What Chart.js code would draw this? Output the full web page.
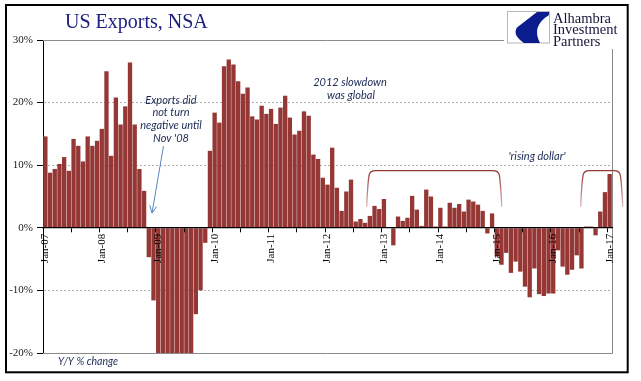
<!DOCTYPE html>
<html><head><meta charset="utf-8">
<script src="https://cdn.jsdelivr.net/npm/chart.js@4.4.1/dist/chart.umd.min.js"></script>
<style>html,body{margin:0;padding:0;background:#fff}canvas{display:block}</style>
</head><body>
<canvas id="c" width="641" height="381"></canvas>
<script>
// ---- data (Y/Y % change in US exports, NSA) ----
const monthNames = ['Jan','Feb','Mar','Apr','May','Jun','Jul','Aug','Sep','Oct','Nov','Dec'];
const yearLabels = ['07','08','09','10','11','12','13','14','15','16','17'];
const yoy2007 = [14.6, 8.8, 9.4, 10.2, 11.3, 9.1, 14.2, 13.1, 10.6, 14.6, 13.1, 13.9];
const yoy2008 = [15.8, 25.0, 11.5, 20.8, 16.5, 19.4, 26.4, 16.5, 9.4, 5.9, -4.7, -11.6];
const yoy2009 = [-22.0, -24.5, -26.0, -27.0, -26.5, -25.0, -23.5, -21.0, -13.8, -10.0, -2.4, 12.3];
const yoy2010 = [18.4, 16.8, 25.8, 26.9, 26.1, 23.4, 21.4, 22.4, 17.8, 17.3, 19.5, 18.2];
const yoy2011 = [19.0, 16.6, 19.2, 21.1, 17.6, 14.9, 15.5, 18.6, 17.9, 11.7, 11.0, 8.0];
const yoy2012 = [6.9, 12.8, 6.4, 2.7, 5.8, 7.7, 1.0, 1.4, 0.8, 1.9, 3.5, 3.0];
const yoy2013 = [4.6, 0.0, -2.8, 1.8, 1.1, 1.6, 5.1, 2.9, 0.3, 6.1, 5.0, 0.2];
const yoy2014 = [3.2, 0.2, 4.0, 3.2, 3.8, 2.6, 4.5, 4.2, 3.7, 2.7, -0.9, 2.3];
const yoy2015 = [-4.6, -5.9, -4.0, -7.2, -5.4, -7.0, -9.4, -11.1, -6.5, -10.6, -10.9, -10.5];
const yoy2016 = [-10.5, -3.6, -6.2, -7.5, -6.7, -4.4, -6.5, 0.2, 0.2, -1.2, 2.6, 5.7];
const yoy2017 = [8.6];
const yTickValues = [-20, -10, 0, 10, 20, 30];

const yearSeries = [yoy2007, yoy2008, yoy2009, yoy2010, yoy2011, yoy2012, yoy2013, yoy2014, yoy2015, yoy2016, yoy2017];
const categories = [];
const values = [];
yearSeries.forEach((arr, yi) => arr.forEach((v, mi) => {
  categories.push(monthNames[mi] + '-' + yearLabels[yi]);
  values.push(v);
}));

const BAR = '#953735';
const NOTE = '#1b2a55';

const decor = {
  id: 'decor',
  beforeDraw(chart) {
    const c = chart.ctx; c.save(); c.fillStyle = '#fff'; c.fillRect(0, 0, chart.width, chart.height); c.restore();
  },
  beforeDatasetsDraw(chart) {
    const {ctx, chartArea: a} = chart;
    ctx.save(); ctx.strokeStyle = '#8a8a8a'; ctx.lineWidth = 1;
    ctx.beginPath();
    ctx.moveTo(a.left, Math.round(a.top) + 0.5);
    ctx.lineTo(Math.round(a.right) + 0.5, Math.round(a.top) + 0.5);
    ctx.lineTo(Math.round(a.right) + 0.5, Math.round(a.bottom) + 0.5);
    ctx.lineTo(a.left, Math.round(a.bottom) + 0.5);
    ctx.stroke(); ctx.restore();
  },
  afterDraw(chart) {
    const ctx = chart.ctx;
    ctx.save();
    // annotation texts
    ctx.fillStyle = NOTE; ctx.textAlign = 'center'; ctx.textBaseline = 'middle';
    ctx.font = 'italic 11px Lato';
    [['Exports did', 100], ['not turn', 112.7], ['negative until', 125.4], ["Nov '08", 138.2]].forEach(([t, y]) => ctx.fillText(t, 171, y));
    ctx.fillText('2012 slowdown', 350, 82.5);
    ctx.fillText('was global', 351, 95.5);
    ctx.fillText("'rising dollar'", 537, 156);
    ctx.textAlign = 'left'; ctx.font = 'italic 10.5px Lato';
    ctx.fillText('Y/Y % change', 58, 362);

    // arrow
    ctx.strokeStyle = '#5a86c5'; ctx.lineWidth = 1;
    const x1 = 163.5, y1 = 146, x2 = 152, y2 = 213;
    ctx.beginPath(); ctx.moveTo(x1, y1); ctx.lineTo(x2, y2); ctx.stroke();
    const ang = Math.atan2(y2 - y1, x2 - x1);
    ctx.beginPath();
    ctx.moveTo(x2 - 8 * Math.cos(ang - 0.45), y2 - 8 * Math.sin(ang - 0.45));
    ctx.lineTo(x2, y2);
    ctx.lineTo(x2 - 8 * Math.cos(ang + 0.45), y2 - 8 * Math.sin(ang + 0.45));
    ctx.stroke();

    // brackets
    function bracket(L, R, T, B) {
      const g = ctx.createLinearGradient(0, T, 0, B);
      g.addColorStop(0, BAR); g.addColorStop(1, 'rgba(149,55,53,0.35)');
      ctx.strokeStyle = g; ctx.lineWidth = 1.3;
      ctx.beginPath();
      ctx.moveTo(L, B);
      ctx.quadraticCurveTo(L + 1, T + 12, L + 2.5, T + 4);
      ctx.quadraticCurveTo(L + 3.5, T, L + 9, T);
      ctx.lineTo(R - 9, T);
      ctx.quadraticCurveTo(R - 3.5, T, R - 2.5, T + 4);
      ctx.quadraticCurveTo(R - 1, T + 12, R, B);
      ctx.stroke();
    }
    bracket(366.7, 501.7, 170.7, 206.7);
    bracket(580.7, 622.7, 170.7, 206.7);

    // title
    ctx.fillStyle = '#1e2080'; ctx.font = "20px 'Liberation Serif'"; ctx.textAlign = 'left'; ctx.textBaseline = 'alphabetic';
    ctx.fillText('US Exports, NSA', 65, 28);

    // logo
    ctx.fillStyle = '#fff'; ctx.fillRect(504, 7, 122, 42);
    ctx.strokeStyle = '#b8b8b8'; ctx.lineWidth = 1; ctx.strokeRect(507.5, 11.5, 42, 31.5);
    ctx.fillStyle = '#0b1c8e';
    ctx.beginPath();
    ctx.moveTo(537, 12); ctx.lineTo(549, 12); ctx.lineTo(549, 15);
    ctx.quadraticCurveTo(531, 26, 540, 43);
    ctx.lineTo(524, 43);
    ctx.quadraticCurveTo(512, 35, 517, 27.5);
    ctx.closePath(); ctx.fill();
    ctx.fillStyle = '#15153a'; ctx.font = "14.5px 'Liberation Serif'";
    ctx.fillText('Alhambra', 553, 22.5);
    ctx.fillText('Investment', 553, 34);
    ctx.fillText('Partners', 553, 45.5);

    // outer frame
    ctx.strokeStyle = '#000'; ctx.lineWidth = 2;
    ctx.strokeRect(6, 5, 621.7, 367.3);
    ctx.restore();
  }
};

new Chart(document.getElementById('c'), {
  type: 'bar',
  data: {
    labels: categories,
    datasets: [{
      data: values,
      backgroundColor: BAR,
      borderWidth: 0,
      categoryPercentage: 1.0,
      barPercentage: 0.92,
      clip: 0
    }]
  },
  options: {
    responsive: false,
    animation: false,
    devicePixelRatio: 1,
    events: [],
    layout: { padding: { left: 0, right: 29, top: 40, bottom: 28 } },
    plugins: { legend: { display: false }, tooltip: { enabled: false }, title: { display: false } },
    scales: {
      x: {
        position: { y: 0 },
        offset: true,
        afterFit: (s) => { s.height = 0; },
        grid: {
          offset: true, drawOnChartArea: false, drawTicks: true, tickLength: 4, z: 1,
          color: 'transparent',
          tickColor: (c) => (c.index % 6 === 0 ? '#000' : 'transparent'),
          tickWidth: 1
        },
        border: { display: true, color: '#000', width: 1.3, z: 1 },
        ticks: {
          autoSkip: false, minRotation: 90, maxRotation: 90, padding: 2, z: 1,
          color: '#000', font: { family: 'Liberation Serif', size: 11 },
          callback: function (v, i) { return i % 12 === 0 ? categories[i] : ''; }
        }
      },
      y: {
        min: yTickValues[0], max: yTickValues[yTickValues.length - 1],
        afterFit: (s) => { s.width = 43; },
        afterBuildTicks: (s) => { s.ticks = yTickValues.map(v => ({ value: v })); },
        grid: {
          drawTicks: true, tickLength: 6, tickColor: '#000', tickBorderDash: [],
          color: (c) => ([0, yTickValues[0], yTickValues[yTickValues.length - 1]].includes(c.tick && c.tick.value) ? 'transparent' : '#b0b0b0'),
          lineWidth: 1
        },
        border: { display: true, color: '#000', width: 1, dash: [2, 2] },
        ticks: {
          padding: 4, color: '#1a1a1a', font: { family: 'Liberation Serif', size: 11 },
          callback: (v) => v + '%'
        }
      }
    }
  },
  plugins: [decor]
});
</script>
</body></html>
